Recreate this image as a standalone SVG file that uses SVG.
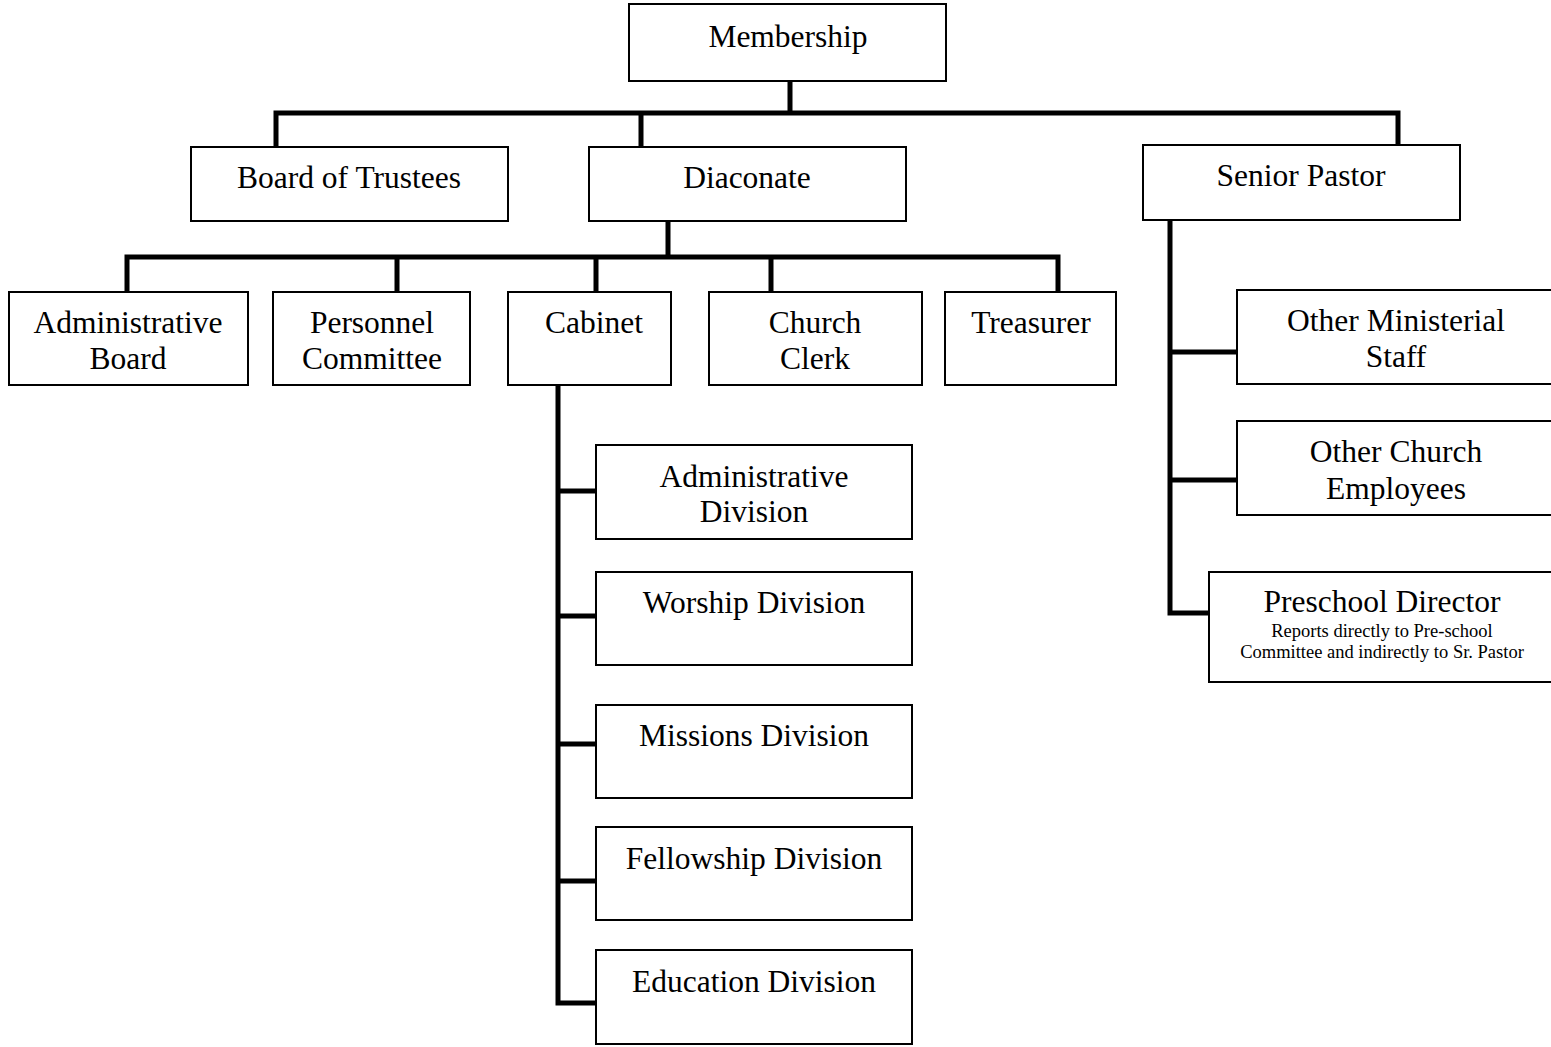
<svg xmlns="http://www.w3.org/2000/svg" width="1551" height="1047" viewBox="0 0 1551 1047">
<style>
.box{fill:#fff;stroke:#000;stroke-width:2}
.t{font-family:"Liberation Serif","Times New Roman",serif;font-size:31.5px;fill:#000;text-anchor:middle}
.s{font-family:"Liberation Serif","Times New Roman",serif;font-size:18.5px;fill:#000;text-anchor:middle}
.c{fill:none;stroke:#000;stroke-width:5;stroke-linecap:square}
</style>
<rect width="1551" height="1047" fill="#fff"/>
<g id="connectors">
<path class="c" d="M790 81V113M276 113H1398M276 113V147M641 113V147M1398 113V145"/>
<path class="c" d="M668 221V257M127 257H1058M127 257V292M397 257V292M596 257V292M771 257V292M1058 257V292"/>
<path class="c" d="M558 385V1003M558 491H596M558 616H596M558 744H596M558 881H596M558 1003H596"/>
<path class="c" d="M1170 220V613M1170 352H1237M1170 480H1237M1170 613H1209"/>
</g>
<g id="membership"><rect class="box" x="629" y="4" width="317" height="77"/><text class="t" x="788" y="47">Membership</text></g>
<g id="board-of-trustees"><rect class="box" x="191" y="147" width="317" height="74"/><text class="t" x="349" y="188">Board of Trustees</text></g>
<g id="diaconate"><rect class="box" x="589" y="147" width="317" height="74"/><text class="t" x="747" y="188">Diaconate</text></g>
<g id="senior-pastor"><rect class="box" x="1143" y="145" width="317" height="75"/><text class="t" x="1301" y="186">Senior Pastor</text></g>
<g id="administrative-board"><rect class="box" x="9" y="292" width="239" height="93"/><text class="t" x="128" y="333">Administrative</text><text class="t" x="128" y="369">Board</text></g>
<g id="personnel-committee"><rect class="box" x="273" y="292" width="197" height="93"/><text class="t" x="372" y="333">Personnel</text><text class="t" x="372" y="369">Committee</text></g>
<g id="cabinet"><rect class="box" x="508" y="292" width="163" height="93"/><text class="t" x="594" y="333">Cabinet</text></g>
<g id="church-clerk"><rect class="box" x="709" y="292" width="213" height="93"/><text class="t" x="815" y="333">Church</text><text class="t" x="815" y="369">Clerk</text></g>
<g id="treasurer"><rect class="box" x="945" y="292" width="171" height="93"/><text class="t" x="1031" y="333">Treasurer</text></g>
<g id="administrative-division"><rect class="box" x="596" y="445" width="316" height="94"/><text class="t" x="754" y="487">Administrative</text><text class="t" x="754" y="522">Division</text></g>
<g id="worship-division"><rect class="box" x="596" y="572" width="316" height="93"/><text class="t" x="754" y="613">Worship Division</text></g>
<g id="missions-division"><rect class="box" x="596" y="705" width="316" height="93"/><text class="t" x="754" y="746">Missions Division</text></g>
<g id="fellowship-division"><rect class="box" x="596" y="827" width="316" height="93"/><text class="t" x="754" y="869">Fellowship Division</text></g>
<g id="education-division"><rect class="box" x="596" y="950" width="316" height="94"/><text class="t" x="754" y="992">Education Division</text></g>
<g id="other-ministerial-staff"><rect class="box" x="1237" y="290" width="330" height="94"/><text class="t" x="1396" y="331">Other Ministerial</text><text class="t" x="1396" y="367">Staff</text></g>
<g id="other-church-employees"><rect class="box" x="1237" y="421" width="330" height="94"/><text class="t" x="1396" y="462">Other Church</text><text class="t" x="1396" y="499">Employees</text></g>
<g id="preschool-director"><rect class="box" x="1209" y="572" width="360" height="110"/><text class="t" x="1382" y="612">Preschool Director</text><text class="s" x="1382" y="637">Reports directly to Pre-school</text><text class="s" x="1382" y="658">Committee and indirectly to Sr. Pastor</text></g>
</svg>
